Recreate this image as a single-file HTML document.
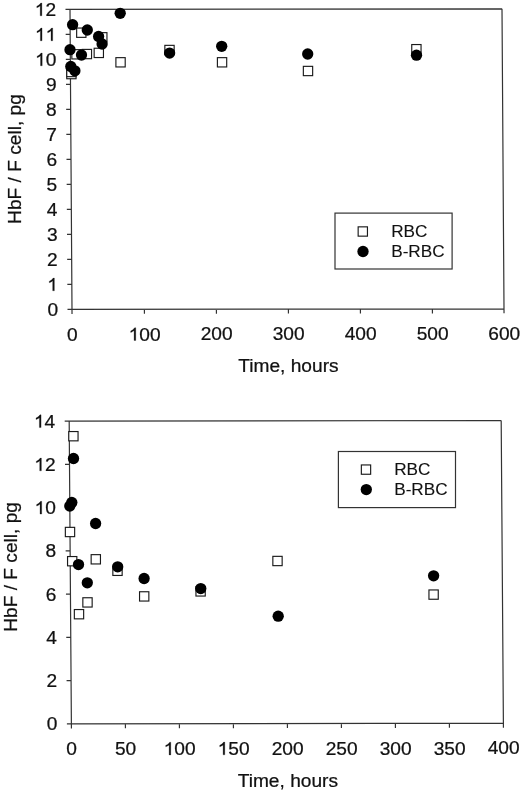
<!DOCTYPE html>
<html><head><meta charset="utf-8"><title>HbF per F cell</title>
<style>
html,body{margin:0;padding:0;background:#fff;width:520px;height:791px;overflow:hidden}
svg{display:block;filter:grayscale(1)}
text{font-family:"Liberation Sans",sans-serif;fill:#111;stroke:#111;stroke-width:0.25px}
.g1{fill:#111;stroke:#111;stroke-width:0.25px}
text.lg{stroke-width:0.12px}
</style></head>
<body>
<svg width="520" height="791" viewBox="0 0 520 791">
<rect width="520" height="791" fill="#fff"/>
<path d="M72.03 313.9L70 9.4M67.5 309.41L504 308.8M65.5 9.41L502 8.8M502 8.8L504.03 313.3M67.33 284.41L71.83 284.4M67.17 259.41L71.67 259.4M67 234.41L71.5 234.4M66.83 209.41L71.33 209.4M66.67 184.41L71.17 184.4M66.5 159.41L71 159.4M66.33 134.41L70.83 134.4M66.17 109.41L70.67 109.4M66 84.41L70.5 84.4M65.83 59.41L70.33 59.4M65.67 34.41L70.17 34.4M144.4 309.3L144.43 313.8M216.4 309.2L216.43 313.7M288.4 309.1L288.43 313.6M360.4 309L360.43 313.5M432.4 308.9L432.43 313.4" stroke="#333" stroke-width="1.2" fill="none"/>
<g transform="translate(58.04 315.78) scale(1.035 1)"><text x="-10.29" y="0" font-size="18.5">0</text></g>
<g transform="translate(57.88 290.78) scale(1.035 1)"><text x="-10.29" y="0" font-size="18.5"> </text><path class="g1" d="M-3.4 0L-5.02 0L-5.02 -9.96Q-5.61 -9.42 -6.09 -9.15Q-6.57 -8.88 -7.05 -8.61Q-7.52 -8.34 -8.29 -8.07L-8.29 -9.58Q-6.93 -10.19 -5.97 -11.02Q-5 -11.84 -4.44 -12.73L-3.4 -12.73Z"/></g>
<g transform="translate(57.71 265.78) scale(1.035 1)"><text x="-10.29" y="0" font-size="18.5">2</text></g>
<g transform="translate(57.54 240.78) scale(1.035 1)"><text x="-10.29" y="0" font-size="18.5">3</text></g>
<g transform="translate(57.38 215.78) scale(1.035 1)"><text x="-10.29" y="0" font-size="18.5">4</text></g>
<g transform="translate(57.21 190.78) scale(1.035 1)"><text x="-10.29" y="0" font-size="18.5">5</text></g>
<g transform="translate(57.04 165.78) scale(1.035 1)"><text x="-10.29" y="0" font-size="18.5">6</text></g>
<g transform="translate(56.88 140.78) scale(1.035 1)"><text x="-10.29" y="0" font-size="18.5">7</text></g>
<g transform="translate(56.71 115.78) scale(1.035 1)"><text x="-10.29" y="0" font-size="18.5">8</text></g>
<g transform="translate(56.54 90.78) scale(1.035 1)"><text x="-10.29" y="0" font-size="18.5">9</text></g>
<g transform="translate(56.37 65.78) scale(1.035 1)"><text x="-20.58" y="0" font-size="18.5"> 0</text><path class="g1" d="M-13.69 0L-15.31 0L-15.31 -9.96Q-15.9 -9.42 -16.38 -9.15Q-16.86 -8.88 -17.33 -8.61Q-17.81 -8.34 -18.58 -8.07L-18.58 -9.58Q-17.22 -10.19 -16.26 -11.02Q-15.29 -11.84 -14.73 -12.73L-13.69 -12.73Z"/></g>
<g transform="translate(56.21 40.78) scale(1.035 1)"><text x="-20.58" y="0" font-size="18.5">  </text><path class="g1" d="M-13.69 0L-15.31 0L-15.31 -9.96Q-15.9 -9.42 -16.38 -9.15Q-16.86 -8.88 -17.33 -8.61Q-17.81 -8.34 -18.58 -8.07L-18.58 -9.58Q-17.22 -10.19 -16.26 -11.02Q-15.29 -11.84 -14.73 -12.73L-13.69 -12.73ZM-3.4 0L-5.02 0L-5.02 -9.96Q-5.61 -9.42 -6.09 -9.15Q-6.57 -8.88 -7.05 -8.61Q-7.52 -8.34 -8.29 -8.07L-8.29 -9.58Q-6.93 -10.19 -5.97 -11.02Q-5 -11.84 -4.44 -12.73L-3.4 -12.73Z"/></g>
<g transform="translate(56.04 15.78) scale(1.035 1)"><text x="-20.58" y="0" font-size="18.5"> 2</text><path class="g1" d="M-13.69 0L-15.31 0L-15.31 -9.96Q-15.9 -9.42 -16.38 -9.15Q-16.86 -8.88 -17.33 -8.61Q-17.81 -8.34 -18.58 -8.07L-18.58 -9.58Q-17.22 -10.19 -16.26 -11.02Q-15.29 -11.84 -14.73 -12.73L-13.69 -12.73Z"/></g>
<g transform="translate(72.21 340.6) scale(1.035 1)"><text x="-5.14" y="0" font-size="18.5">0</text></g>
<g transform="translate(144.61 340.5) scale(1.035 1)"><text x="-15.43" y="0" font-size="18.5"> 00</text><path class="g1" d="M-8.54 0L-10.17 0L-10.17 -9.96Q-10.75 -9.42 -11.23 -9.15Q-11.71 -8.88 -12.19 -8.61Q-12.67 -8.34 -13.44 -8.07L-13.44 -9.58Q-12.07 -10.19 -11.11 -11.02Q-10.15 -11.84 -9.59 -12.73L-8.54 -12.73Z"/></g>
<g transform="translate(216.61 340.4) scale(1.035 1)"><text x="-15.43" y="0" font-size="18.5">200</text></g>
<g transform="translate(288.61 340.3) scale(1.035 1)"><text x="-15.43" y="0" font-size="18.5">300</text></g>
<g transform="translate(360.61 340.2) scale(1.035 1)"><text x="-15.43" y="0" font-size="18.5">400</text></g>
<g transform="translate(432.61 340.1) scale(1.035 1)"><text x="-15.43" y="0" font-size="18.5">500</text></g>
<g transform="translate(504.21 340) scale(1.035 1)"><text x="-15.43" y="0" font-size="18.5">600</text></g>
<text transform="translate(288.42 372.1) scale(1.035 1)" font-size="18.5" text-anchor="middle">Time, hours</text>
<text transform="translate(21.1 159.05) rotate(-90) scale(1.035 1)" font-size="18.5" text-anchor="middle">HbF / F cell, pg</text>
<rect x="335" y="213.1" width="117.1" height="55.9" fill="none" stroke="#333" stroke-width="1.2"/>
<rect x="358.15" y="226.85" width="9.3" height="9.3" fill="#fff" stroke="#1a1a1a" stroke-width="1.15"/>
<circle cx="363" cy="251.5" r="5.65" fill="#000"/>
<text transform="translate(391.2 236.5) scale(1.04 1)" font-size="16.5" class="lg">RBC</text>
<text transform="translate(391.2 257) scale(1.04 1)" font-size="16.5" class="lg">B-RBC</text>
<rect x="76.65" y="28.05" width="9.3" height="9.3" fill="#fff" stroke="#1a1a1a" stroke-width="1.15"/>
<rect x="97.65" y="32.65" width="9.3" height="9.3" fill="#fff" stroke="#1a1a1a" stroke-width="1.15"/>
<rect x="94.15" y="48.25" width="9.3" height="9.3" fill="#fff" stroke="#1a1a1a" stroke-width="1.15"/>
<rect x="82.25" y="49.4" width="9.3" height="9.3" fill="#fff" stroke="#1a1a1a" stroke-width="1.15"/>
<rect x="71.85" y="49.65" width="9.3" height="9.3" fill="#fff" stroke="#1a1a1a" stroke-width="1.15"/>
<rect x="115.9" y="57.65" width="9.3" height="9.3" fill="#fff" stroke="#1a1a1a" stroke-width="1.15"/>
<rect x="66.75" y="69.45" width="9.3" height="9.3" fill="#fff" stroke="#1a1a1a" stroke-width="1.15"/>
<rect x="66.75" y="67.35" width="9.3" height="9.3" fill="#fff" stroke="#1a1a1a" stroke-width="1.15"/>
<rect x="164.85" y="45.35" width="9.3" height="9.3" fill="#fff" stroke="#1a1a1a" stroke-width="1.15"/>
<rect x="217.4" y="57.65" width="9.3" height="9.3" fill="#fff" stroke="#1a1a1a" stroke-width="1.15"/>
<rect x="303.35" y="66.35" width="9.3" height="9.3" fill="#fff" stroke="#1a1a1a" stroke-width="1.15"/>
<rect x="411.75" y="44.55" width="9.3" height="9.3" fill="#fff" stroke="#1a1a1a" stroke-width="1.15"/>
<circle cx="72.6" cy="24.7" r="5.65" fill="#000"/>
<circle cx="87.3" cy="30" r="5.65" fill="#000"/>
<circle cx="98.6" cy="36.4" r="5.65" fill="#000"/>
<circle cx="102.1" cy="44" r="5.65" fill="#000"/>
<circle cx="70" cy="49.7" r="5.65" fill="#000"/>
<circle cx="81.5" cy="55" r="5.65" fill="#000"/>
<circle cx="70.8" cy="66.5" r="5.65" fill="#000"/>
<circle cx="74.9" cy="70.8" r="5.65" fill="#000"/>
<circle cx="120.2" cy="13.35" r="5.65" fill="#000"/>
<circle cx="169.6" cy="53.1" r="5.65" fill="#000"/>
<circle cx="221.7" cy="46.3" r="5.65" fill="#000"/>
<circle cx="307.7" cy="54" r="5.65" fill="#000"/>
<circle cx="416.5" cy="55.2" r="5.65" fill="#000"/>
<path d="M71.43 728.4L69.19 421.2M66.9 723.91L503.4 723.21M64.69 421.21L501.19 420.51M501.19 420.51L503.43 727.71M66.58 680.66L71.08 680.66M66.27 637.42L70.77 637.41M65.95 594.18L70.45 594.17M65.64 550.94L70.14 550.93M65.32 507.69L69.82 507.69M65.01 464.45L69.51 464.44M125.4 723.81L125.43 728.31M179.4 723.73L179.43 728.23M233.4 723.64L233.43 728.14M287.4 723.55L287.43 728.05M341.4 723.47L341.43 727.97M395.4 723.38L395.43 727.88M449.4 723.3L449.43 727.8" stroke="#333" stroke-width="1.2" fill="none"/>
<g transform="translate(57.45 730.29) scale(1.035 1)"><text x="-10.29" y="0" font-size="18.5">0</text></g>
<g transform="translate(57.13 687.04) scale(1.035 1)"><text x="-10.29" y="0" font-size="18.5">2</text></g>
<g transform="translate(56.82 643.8) scale(1.035 1)"><text x="-10.29" y="0" font-size="18.5">4</text></g>
<g transform="translate(56.5 600.56) scale(1.035 1)"><text x="-10.29" y="0" font-size="18.5">6</text></g>
<g transform="translate(56.18 557.31) scale(1.035 1)"><text x="-10.29" y="0" font-size="18.5">8</text></g>
<g transform="translate(55.87 514.07) scale(1.035 1)"><text x="-20.58" y="0" font-size="18.5"> 0</text><path class="g1" d="M-13.69 0L-15.31 0L-15.31 -9.96Q-15.9 -9.42 -16.38 -9.15Q-16.86 -8.88 -17.33 -8.61Q-17.81 -8.34 -18.58 -8.07L-18.58 -9.58Q-17.22 -10.19 -16.26 -11.02Q-15.29 -11.84 -14.73 -12.73L-13.69 -12.73Z"/></g>
<g transform="translate(55.55 470.83) scale(1.035 1)"><text x="-20.58" y="0" font-size="18.5"> 2</text><path class="g1" d="M-13.69 0L-15.31 0L-15.31 -9.96Q-15.9 -9.42 -16.38 -9.15Q-16.86 -8.88 -17.33 -8.61Q-17.81 -8.34 -18.58 -8.07L-18.58 -9.58Q-17.22 -10.19 -16.26 -11.02Q-15.29 -11.84 -14.73 -12.73L-13.69 -12.73Z"/></g>
<g transform="translate(55.24 427.59) scale(1.035 1)"><text x="-20.58" y="0" font-size="18.5"> 4</text><path class="g1" d="M-13.69 0L-15.31 0L-15.31 -9.96Q-15.9 -9.42 -16.38 -9.15Q-16.86 -8.88 -17.33 -8.61Q-17.81 -8.34 -18.58 -8.07L-18.58 -9.58Q-17.22 -10.19 -16.26 -11.02Q-15.29 -11.84 -14.73 -12.73L-13.69 -12.73Z"/></g>
<g transform="translate(71.63 755.1) scale(1.035 1)"><text x="-5.14" y="0" font-size="18.5">0</text></g>
<g transform="translate(125.63 755.01) scale(1.035 1)"><text x="-10.29" y="0" font-size="18.5">50</text></g>
<g transform="translate(179.63 754.93) scale(1.035 1)"><text x="-15.43" y="0" font-size="18.5"> 00</text><path class="g1" d="M-8.54 0L-10.17 0L-10.17 -9.96Q-10.75 -9.42 -11.23 -9.15Q-11.71 -8.88 -12.19 -8.61Q-12.67 -8.34 -13.44 -8.07L-13.44 -9.58Q-12.07 -10.19 -11.11 -11.02Q-10.15 -11.84 -9.59 -12.73L-8.54 -12.73Z"/></g>
<g transform="translate(233.63 754.84) scale(1.035 1)"><text x="-15.43" y="0" font-size="18.5"> 50</text><path class="g1" d="M-8.54 0L-10.17 0L-10.17 -9.96Q-10.75 -9.42 -11.23 -9.15Q-11.71 -8.88 -12.19 -8.61Q-12.67 -8.34 -13.44 -8.07L-13.44 -9.58Q-12.07 -10.19 -11.11 -11.02Q-10.15 -11.84 -9.59 -12.73L-8.54 -12.73Z"/></g>
<g transform="translate(287.63 754.75) scale(1.035 1)"><text x="-15.43" y="0" font-size="18.5">200</text></g>
<g transform="translate(341.63 754.67) scale(1.035 1)"><text x="-15.43" y="0" font-size="18.5">250</text></g>
<g transform="translate(395.63 754.58) scale(1.035 1)"><text x="-15.43" y="0" font-size="18.5">300</text></g>
<g transform="translate(449.63 754.5) scale(1.035 1)"><text x="-15.43" y="0" font-size="18.5">350</text></g>
<g transform="translate(503.63 754.41) scale(1.035 1)"><text x="-15.43" y="0" font-size="18.5">400</text></g>
<text transform="translate(287.86 786.55) scale(1.035 1)" font-size="18.5" text-anchor="middle">Time, hours</text>
<text transform="translate(17 566.9) rotate(-90) scale(1.035 1)" font-size="18.5" text-anchor="middle">HbF / F cell, pg</text>
<rect x="338.4" y="451.5" width="117.1" height="56.1" fill="none" stroke="#333" stroke-width="1.2"/>
<rect x="361.35" y="464.95" width="9.3" height="9.3" fill="#fff" stroke="#1a1a1a" stroke-width="1.15"/>
<circle cx="366.3" cy="489.6" r="5.65" fill="#000"/>
<text transform="translate(394.2 474.5) scale(1.04 1)" font-size="16.5" class="lg">RBC</text>
<text transform="translate(394.2 495.3) scale(1.04 1)" font-size="16.5" class="lg">B-RBC</text>
<rect x="68.75" y="431.55" width="9.3" height="9.3" fill="#fff" stroke="#1a1a1a" stroke-width="1.15"/>
<rect x="65.35" y="527.35" width="9.3" height="9.3" fill="#fff" stroke="#1a1a1a" stroke-width="1.15"/>
<rect x="67.55" y="556.55" width="9.3" height="9.3" fill="#fff" stroke="#1a1a1a" stroke-width="1.15"/>
<rect x="91.15" y="554.65" width="9.3" height="9.3" fill="#fff" stroke="#1a1a1a" stroke-width="1.15"/>
<rect x="112.85" y="566.15" width="9.3" height="9.3" fill="#fff" stroke="#1a1a1a" stroke-width="1.15"/>
<rect x="82.85" y="597.75" width="9.3" height="9.3" fill="#fff" stroke="#1a1a1a" stroke-width="1.15"/>
<rect x="74.35" y="609.55" width="9.3" height="9.3" fill="#fff" stroke="#1a1a1a" stroke-width="1.15"/>
<rect x="139.55" y="591.75" width="9.3" height="9.3" fill="#fff" stroke="#1a1a1a" stroke-width="1.15"/>
<rect x="195.95" y="586.75" width="9.3" height="9.3" fill="#fff" stroke="#1a1a1a" stroke-width="1.15"/>
<rect x="272.85" y="556.35" width="9.3" height="9.3" fill="#fff" stroke="#1a1a1a" stroke-width="1.15"/>
<rect x="428.95" y="589.95" width="9.3" height="9.3" fill="#fff" stroke="#1a1a1a" stroke-width="1.15"/>
<circle cx="73.5" cy="458.5" r="5.65" fill="#000"/>
<circle cx="71.8" cy="502.5" r="5.65" fill="#000"/>
<circle cx="69.8" cy="506" r="5.65" fill="#000"/>
<circle cx="95.6" cy="523.5" r="5.65" fill="#000"/>
<circle cx="78.5" cy="564.6" r="5.65" fill="#000"/>
<circle cx="87.3" cy="582.8" r="5.65" fill="#000"/>
<circle cx="117.7" cy="566.8" r="5.65" fill="#000"/>
<circle cx="144.1" cy="578.5" r="5.65" fill="#000"/>
<circle cx="200.75" cy="588.6" r="5.65" fill="#000"/>
<circle cx="278.2" cy="616.2" r="5.65" fill="#000"/>
<circle cx="433.6" cy="575.8" r="5.65" fill="#000"/>
</svg>
</body></html>
